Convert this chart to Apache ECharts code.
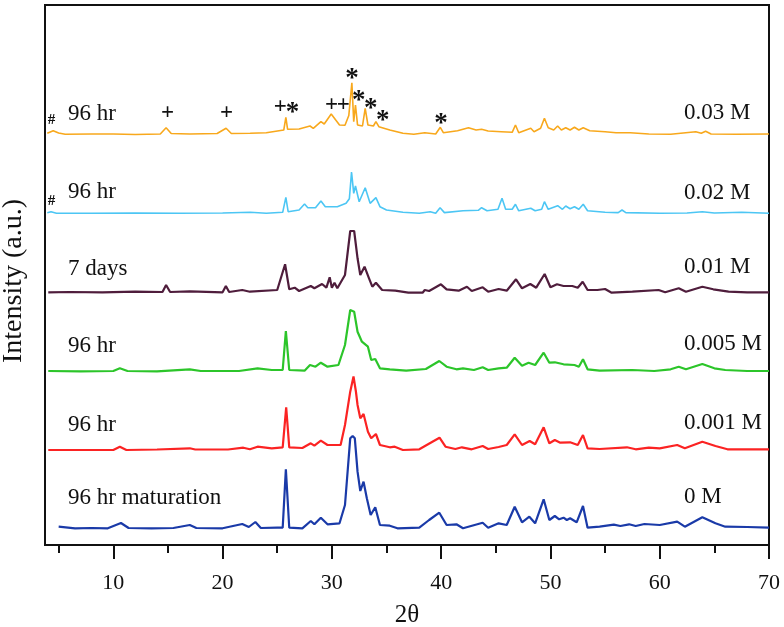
<!DOCTYPE html>
<html>
<head>
<meta charset="utf-8">
<script src="https://cdn.jsdelivr.net/npm/echarts@6/dist/echarts.min.js"></script>
<style>html,body{margin:0;padding:0;background:#fff}#c{width:784px;height:627px}</style>
</head>
<body>
<div id="c"></div>
<script>
// ---- data (2θ, relative intensity) ----
const majorTicks = [10, 20, 30, 40, 50, 60, 70];
const minorTicks = [5, 15, 25, 35, 45, 55, 65];
const seriesNames = ['0.03 M', '0.02 M', '0.01 M', '0.005 M', '0.001 M', '0 M'];
const timeLabels = ['96 hr', '96 hr', '7 days', '96 hr', '96 hr', '96 hr maturation'];
const offsets = [411.5, 332.2, 253, 174, 95.5, 17];

const s003 = [[3.96,0.2],[4.5,2.8],[5.0,0.5],[5.6,-0.8],[8,-0.5],[10,-0.5],[12,-1],[14.3,-0.5],[14.83,5.8],[15.3,0],[17,-0.5],[19.5,0],[20.32,5.2],[20.8,0],[22.52,0.2],[24,0.8],[25.6,3.5],[25.79,16.2],[25.95,4.2],[27,4.5],[28,7.5],[28.3,5.2],[29,11.8],[29.3,9.5],[29.94,19.5],[30.7,8.5],[31.2,8.2],[31.55,18],[31.83,50.8],[32.0,11.8],[32.16,28.5],[32.35,8.5],[32.8,7.5],[33.05,25.2],[33.3,8.5],[33.8,7.5],[34.03,11.8],[34.3,6.8],[35.3,3.5],[36.5,0.2],[37.5,-0.8],[38.5,0.8],[39.5,-0.5],[39.92,6.2],[40.2,0.8],[41.5,2.8],[42.5,5.8],[43.2,3.5],[43.7,4.2],[44.3,2.5],[45.5,1.8],[46.5,1.2],[46.8,8.5],[47.1,0.8],[48.2,5.2],[48.5,1.8],[49.1,5.2],[49.45,15.2],[49.8,5.8],[50.3,3.5],[50.66,7.5],[51,3.5],[51.4,5.8],[51.8,3.5],[52.2,6.2],[52.6,3.5],[53,5.8],[53.6,2.8],[55,1.8],[56,0.8],[57.3,0.8],[59,-0.5],[61,-0.8],[63.3,1.8],[63.8,0.2],[64.2,2.2],[64.7,-0.5],[67,-0.8],[70,-0.5]];
const s002 = [[3.96,0],[4.3,1],[4.8,-0.5],[8,-0.5],[12,-0.2],[16,-0.5],[20,-0.2],[22.52,0.5],[24,-0.5],[25.5,0.5],[25.79,15.5],[26,1.1],[27,2.8],[27.5,8.8],[27.8,5.1],[28.5,5.1],[29,11.8],[29.4,6.1],[30.5,6.1],[31.3,9.5],[31.6,14],[31.8,40.8],[32,19.5],[32.16,26.8],[32.5,11.1],[33.05,25.1],[33.5,9.5],[34.03,15.1],[34.4,6.1],[35,2.8],[36.5,0.5],[38,-0.5],[39,1.1],[39.5,-0.5],[39.9,5.1],[40.3,0.2],[42,2],[43.4,2.5],[43.7,5.1],[44.2,2],[45.2,3.5],[45.57,14.5],[45.9,3.5],[46.5,3.5],[46.8,8.5],[47.1,2],[48.2,4.5],[48.6,2],[49.2,3.5],[49.45,11.1],[49.8,3.5],[50.66,7.1],[51.1,3.5],[51.4,6.8],[51.8,4.1],[52.2,6.1],[52.6,3.5],[53,8.5],[53.4,2],[55,0.5],[56.2,0.2],[56.55,2.8],[56.9,0.2],[60,-0.5],[62.5,-0.2],[63.9,1.1],[65,-0.2],[67.5,0.5],[70,-0.5]];
const s001 = [[4.05,-0.3],[6,0],[9,-0.3],[12,0.3],[14.5,0],[14.83,7],[15.2,0],[17,0.7],[20,-0.3],[20.3,6],[20.6,0],[21.8,2],[22.5,0.3],[25,2],[25.72,27.7],[26.1,2.7],[26.6,4.3],[27,1],[28.07,6],[28.4,3.7],[29.1,8],[29.5,4.3],[29.8,14.7],[30,4.3],[30.24,9.3],[30.5,3.7],[31.2,17],[31.68,61],[32.04,61],[32.35,33.7],[32.6,17],[32.99,25.3],[33.4,13.7],[33.7,5.3],[34.03,9.3],[34.6,2],[35.8,1.3],[37,-0.7],[38.3,-0.7],[38.5,2],[38.9,1],[39.98,7.7],[40.5,2.7],[41.6,1.3],[42.36,5.3],[42.8,1],[43.8,4.7],[44.3,0.3],[45.26,3],[46,1.3],[46.85,12.7],[47.4,3.7],[48.16,8],[48.7,4.3],[49.47,18],[50,4.7],[50.6,7.7],[51.2,6],[52,6],[52.5,4.3],[52.95,10.3],[53.4,2],[54.3,2],[55,3],[55.6,-0.7],[57.5,0.3],[59.9,2],[60.5,-0.3],[61.74,3.7],[62.4,0.3],[63.9,5.3],[64.9,2.7],[66.3,0.3],[68,-0.3],[70,-0.3]];
const s0005 = [[4.05,0],[7,-0.3],[10,0],[10.6,2.7],[11.3,0],[14,-0.3],[17,1.7],[18,0],[21.5,0],[23.2,2.7],[24.5,1],[25.5,1],[25.79,40],[26.1,1],[27.5,0.3],[28,6],[28.5,4.3],[28.99,8.3],[29.6,4.3],[30.6,6],[31.2,26],[31.68,61],[32.04,59.3],[32.35,39.3],[32.75,29.3],[33.3,24.3],[33.6,11],[33.97,12],[34.4,2.7],[35.3,1.7],[36.8,0.3],[38.6,2],[39.83,10],[40.5,4.3],[41.4,1.7],[42,2.7],[43,1],[43.8,3.7],[44.3,1],[45.26,2.7],[46,3.3],[46.73,13.3],[47.4,5.3],[48,8.3],[48.6,6],[49.38,18.3],[49.9,8.3],[50.4,8.7],[51.2,6.7],[52.2,6],[52.6,4.3],[52.98,11.7],[53.4,1.7],[54.5,0.3],[57.5,1],[59.5,0],[61,1.7],[61.74,4.3],[62.4,1.7],[63.9,7],[65,2.7],[66,1],[68,0],[70,0]];
const s0001 = [[4.05,-0.5],[7,-0.5],[10,-0.5],[10.6,2.8],[11.2,-0.5],[14,0],[17,1.2],[17.5,0],[20.5,0],[21.9,1.8],[22.5,0.2],[23.2,2.8],[24.5,1.2],[25.5,2.2],[25.82,42.2],[26.1,2.2],[27.3,1.5],[28.07,6.2],[28.4,3.8],[28.99,8.8],[29.6,4.5],[30.8,4.5],[31.2,24.5],[31.68,57.8],[31.98,73],[32.2,58],[32.35,44.5],[32.6,31.2],[32.9,35.5],[33.3,17.8],[33.6,11.2],[34.03,15.5],[34.4,4.5],[35.3,2.2],[35.75,2.8],[36.5,-0.5],[38,0.2],[38.8,5.2],[39.85,11.8],[40.4,2.8],[41.3,0.5],[41.9,2.2],[42.8,0.2],[43.8,3.5],[44.3,0.5],[45.26,2.5],[46,4.5],[46.73,15.2],[47.4,4.5],[48.1,8.5],[48.6,5.2],[49.38,22.2],[49.9,6.2],[50.4,9.5],[50.9,6.8],[51.8,7.2],[52.5,4.5],[52.98,14.5],[53.4,1.2],[54.5,0.5],[57,2.2],[57.8,0.2],[59,1.8],[60,1.2],[61.6,4.5],[62.3,1.2],[63.9,7.8],[65.1,3.5],[66.2,0.2],[68,0.2],[70,0.2]];
const s0 = [[5,1.3],[6.5,-0.3],[8,0],[9.5,-0.3],[10.7,5],[11.4,0],[13.5,-0.3],[15.5,0],[17,3],[17.6,0],[20,-0.3],[21.8,4],[22.4,1],[23,6],[23.5,0],[25,0.3],[25.5,0.3],[25.79,58.7],[26.1,0.3],[27.3,-0.3],[28.07,7],[28.4,3.7],[28.99,10.3],[29.6,3.7],[30.7,4.7],[31.2,23],[31.68,89.7],[31.9,92],[32.1,89.7],[32.35,56.3],[32.6,37],[32.9,46.3],[33.2,29.7],[33.55,13],[33.97,20.7],[34.4,3],[35.3,2.3],[36,-0.3],[38,0.3],[38.9,8],[39.83,15.3],[40.5,3],[41.4,3.7],[42,-0.3],[43.8,5.3],[44.3,0.3],[45.26,4.7],[46,3],[46.73,21.3],[47.4,5.7],[48.07,11.3],[48.6,4.7],[49.38,28.7],[49.9,8],[50.4,12],[50.8,8.7],[51.2,10.3],[51.5,8],[51.8,9.7],[52.4,5.7],[52.98,22],[53.4,0.3],[54.5,1.3],[55.8,3.3],[56.4,2],[57.2,3.7],[57.8,2],[58.6,4],[60,3],[61.6,6.3],[62.3,1.3],[63.9,10.7],[65.1,4.7],[66,1.3],[68,1],[70,0.3]];
const allSeries = [s003, s002, s001, s0005, s0001, s0];

// phase markers on the 0.03 M pattern: [2θ, y, symbol]
const markers003 = [[14.96,432,'+'],[20.37,432,'+'],[25.28,438,'+'],[26.39,432,'*'],[29.98,440,'+'],[31.04,440,'+'],[31.84,465.5,'*'],[32.45,444.3,'*'],[33.55,436,'*'],[34.65,424,'*'],[39.98,421,'*']];

// ---- styling ----
const colors = ['#f8a81c', '#4cc6f4', '#4f1d3c', '#2cc52a', '#fb2323', '#1a3aa8'];
const widths = [1.6, 1.6, 2.2, 2.2, 2.2, 2.2];
const serif = 'Liberation Serif';
const ink = '#111';

const series = allSeries.map((arr, i) => {
  const s = {
    type: 'line', name: seriesNames[i], xAxisIndex: 0, yAxisIndex: 0,
    showSymbol: false, symbol: 'none', smooth: false,
    lineStyle: { color: colors[i], width: widths[i] },
    itemStyle: { color: colors[i] },
    data: arr.map(p => [p[0], p[1] + offsets[i]]),
    z: 3
  };
  if (i === 0) {
    s.markPoint = {
      symbol: 'circle', symbolSize: 1, silent: true,
      itemStyle: { color: 'rgba(0,0,0,0)' },
      label: { show: true, position: 'inside', color: ink, fontFamily: serif, fontWeight: 'bold' },
      data: markers003.map(m => ({ coord: [m[0], m[1]], label: { formatter: m[2], fontSize: m[2] === '*' ? 27 : 23 } }))
    };
  }
  return s;
});

const graphics = [];
const leftY = [115, 193.5, 270, 347.5, 426, 499.5];
const rightY = [114.7, 194, 268, 345, 424.7, 498.3];
timeLabels.forEach((t, i) => {
  graphics.push({ type: 'text', left: 68, top: leftY[i] - 13, style: { text: t, font: '23px "Liberation Serif"', fill: ink } });
  graphics.push({ type: 'text', left: 684, top: rightY[i] - 13, style: { text: seriesNames[i], font: '23px "Liberation Serif"', fill: ink } });
});
graphics.push({ type: 'text', x: 51.5, y: 120, style: { text: '#', font: 'bold 15px "Liberation Serif"', fill: ink, align: 'center', verticalAlign: 'middle' } });
graphics.push({ type: 'text', x: 51.5, y: 201, style: { text: '#', font: 'bold 15px "Liberation Serif"', fill: ink, align: 'center', verticalAlign: 'middle' } });
graphics.push({ type: 'text', x: 14, y: 281, rotation: Math.PI / 2, style: { text: 'Intensity (a.u.)', font: '28px "Liberation Serif"', fill: ink, align: 'center', verticalAlign: 'middle' } });

const chart = echarts.init(document.getElementById('c'), null, { renderer: 'canvas' });
chart.setOption({
  animation: false,
  backgroundColor: '#fff',
  grid: { left: 45, right: 15, top: 5, bottom: 82, show: true, borderColor: ink, borderWidth: 2, backgroundColor: 'transparent', outerBoundsMode: 'none', containLabel: false },
  xAxis: [
    {
      type: 'value', min: 3.75, max: 70, position: 'bottom',
      axisLine: { show: true, lineStyle: { color: ink, width: 2 } },
      axisTick: { show: true, inside: false, length: 14, customValues: majorTicks, lineStyle: { color: ink, width: 2 } },
      axisLabel: { show: true, customValues: majorTicks, margin: 27, fontSize: 22, fontFamily: serif, color: ink },
      splitLine: { show: false },
      name: '2θ', nameLocation: 'middle', nameGap: 58,
      nameTextStyle: { fontSize: 25, fontFamily: serif, color: ink }
    },
    {
      type: 'value', min: 3.75, max: 70, position: 'bottom', gridIndex: 0,
      axisLine: { show: false },
      axisTick: { show: true, inside: false, length: 8, customValues: minorTicks, lineStyle: { color: ink, width: 2 } },
      axisLabel: { show: false },
      splitLine: { show: false }
    }
  ],
  yAxis: { type: 'value', min: 0, max: 540, show: false },
  series: series,
  graphic: graphics
});
</script>
</body>
</html>
